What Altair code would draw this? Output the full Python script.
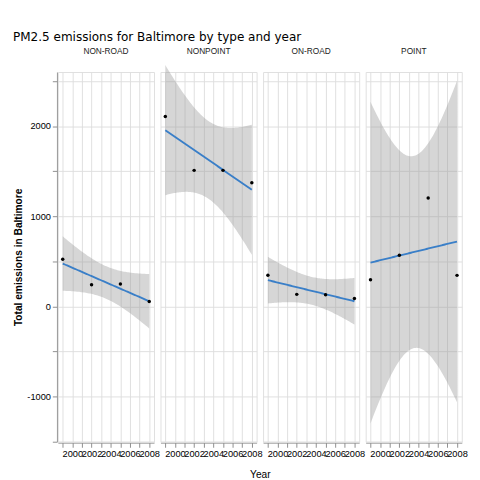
import altair as alt
import numpy as np
import pandas as pd

types = ["NON-ROAD", "NONPOINT", "ON-ROAD", "POINT"]
years = [1999, 2002, 2005, 2008]
emissions = {
    "NON-ROAD": [522.9, 240.8, 248.9, 55.8],
    "NONPOINT": [2107.6, 1509.5, 1509.5, 1373.2],
    "ON-ROAD": [346.8, 134.3, 130.4, 88.3],
    "POINT": [296.8, 569.3, 1202.5, 345.0],
}

T975_DF2 = 4.303  # t quantile, 95% band with n-2 = 2 df

rows = []
x = np.array(years, dtype=float)
grid = np.linspace(1999, 2008, 80)
for t in types:
    y = np.array(emissions[t])
    for xi, yi in zip(x, y):
        rows.append({"type": t, "kind": "pt", "year": xi, "value": yi})
    b, a = np.polyfit(x, y, 1)
    resid = y - (a + b * x)
    s = np.sqrt((resid ** 2).sum() / (len(x) - 2))
    sxx = ((x - x.mean()) ** 2).sum()
    for g in grid:
        fit = a + b * g
        se = s * np.sqrt(1 / len(x) + (g - x.mean()) ** 2 / sxx)
        rows.append({"type": t, "kind": "fit", "year": g, "value": fit,
                     "lo": fit - T975_DF2 * se, "hi": fit + T975_DF2 * se})
df = pd.DataFrame(rows)

xs = alt.Scale(domain=[1998.5, 2008.5], nice=False)
ys = alt.Scale(domain=[-1500, 2600], nice=False)
xax = alt.Axis(values=list(range(1999, 2009)), title=None, labelOverlap=False,
               labelExpr="datum.value % 2 == 0 ? datum.value : ''")
yax = alt.Axis(values=[-1500, -1000, -500, 0, 500, 1000, 1500, 2000, 2500],
               title="Total emissions in Baltimore",
               labelExpr="datum.value % 1000 == 0 ? datum.value : ''")

base = alt.Chart().encode(x=alt.X("year:Q", scale=xs, axis=xax))
band = base.transform_filter("datum.kind == 'fit'").mark_area(color="#999999", opacity=0.4).encode(
    y=alt.Y("lo:Q", scale=ys, axis=yax), y2="hi:Q")
line = base.transform_filter("datum.kind == 'fit'").mark_line(color="#3A7FC8", strokeWidth=2).encode(
    y=alt.Y("value:Q", scale=ys, axis=yax))
pts = base.transform_filter("datum.kind == 'pt'").mark_circle(color="black", size=14, opacity=1).encode(
    y=alt.Y("value:Q", scale=ys, axis=yax))

chart = alt.layer(band, line, pts, data=df).properties(width=104, height=400).facet(
    column=alt.Column("type:N", title="Year", header=alt.Header(
        labelFontSize=9, labelColor="#1a1a1a", titleOrient="bottom",
        titleFontSize=11, titleFontWeight="normal", titlePadding=2)),
    spacing=5,
).properties(
    title=alt.TitleParams("PM2.5 emissions for Baltimore by type and year", anchor="start",
                          fontSize=13, fontWeight="normal", font="DejaVu Sans"),
).configure_view(stroke=None).configure_axis(
    grid=True, gridColor="#ebebeb", domain=False, ticks=False, labelColor="#4d4d4d",
    labelFontSize=9, titleFontSize=11, titleFontWeight="normal", labelPadding=2,
).configure(padding=5)

chart.save("out.html", embed_options={"renderer": "svg", "actions": False})
